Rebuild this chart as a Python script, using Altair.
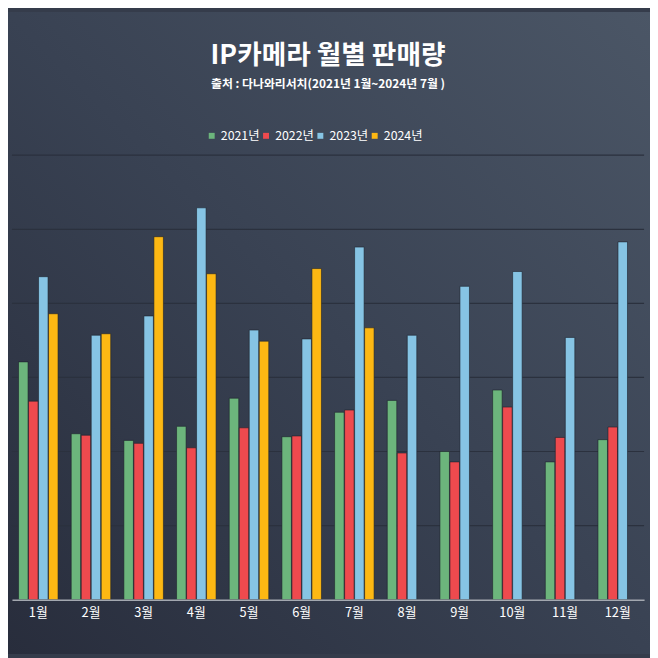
import altair as alt
import pandas as pd

months = ["1월", "2월", "3월", "4월", "5월", "6월", "7월", "8월", "9월", "10월", "11월", "12월"]
years = ["2021년", "2022년", "2023년", "2024년"]
sales_2021 = [3.21, 2.24, 2.15, 2.34, 2.72, 2.20, 2.53, 2.69, 2.00, 2.83, 1.86, 2.16]
sales_2022 = [2.68, 2.22, 2.11, 2.05, 2.32, 2.21, 2.56, 1.98, 1.86, 2.60, 2.19, 2.33]
sales_2023 = [4.36, 3.57, 3.83, 5.29, 3.64, 3.52, 4.76, 3.57, 4.23, 4.43, 3.54, 4.83]
sales_2024 = [3.86, 3.59, 4.90, 4.40, 3.49, 4.47, 3.67]
grid_ticks = [1, 2, 3, 4, 5, 6]
colors = ["#6cb57c", "#ee4a4e", "#86c4e4", "#fdb813"]

rows = []
for yr, vals in zip(years, [sales_2021, sales_2022, sales_2023, sales_2024]):
    for m, v in zip(months, vals):
        rows.append({"month": m, "year": yr, "value": v})
df = pd.DataFrame(rows)

FONT = "Noto Sans CJK KR"
W, H = 640, 450

gradient = {
    "gradient": "linear",
    "x1": 1, "y1": 0, "x2": 0, "y2": 1,
    "stops": [
        {"offset": 0, "color": "#4b5666"},
        {"offset": 0.5, "color": "#394253"},
        {"offset": 1, "color": "#282d3c"},
    ],
}

bg = alt.Chart(pd.DataFrame({"a": [0]})).mark_rect(color=gradient).encode(
    x=alt.value(-4), x2=alt.value(W + 6), y=alt.value(-145), y2=alt.value(H + 55)
)

grid = alt.Chart(pd.DataFrame({"v": grid_ticks})).mark_rule(
    color="#2b313e", strokeWidth=1.2
).encode(y=alt.Y("v:Q", scale=alt.Scale(domain=[0, 6]), axis=None))

bars = alt.Chart(df).mark_bar(stroke="#1b202b", strokeWidth=0.6).encode(
    x=alt.X(
        "month:N",
        sort=months,
        scale=alt.Scale(paddingInner=0.25, paddingOuter=0.125),
        axis=alt.Axis(
            title=None, labelAngle=0, labelColor="#ffffff", labelFontSize=13,
            labelFont=FONT, labelPadding=7, ticks=False, grid=False,
            domain=True, domainColor="#a3a8b0", domainWidth=1.5, zindex=1,
        ),
    ),
    xOffset=alt.XOffset("year:N", scale=alt.Scale(domain=years, paddingInner=0.05)),
    y=alt.Y("value:Q", scale=alt.Scale(domain=[0, 6]), axis=None),
    color=alt.Color(
        "year:N",
        scale=alt.Scale(domain=years, range=colors),
        legend=alt.Legend(
            title=None, orient="none", legendX=196, legendY=-26, direction="horizontal",
            labelColor="#ffffff", labelFontSize=12.5, labelFont=FONT,
            symbolType="square", symbolSize=36, symbolStrokeWidth=0,
            columnPadding=0, labelOffset=3,
        ),
    ),
)

chart = alt.layer(bg, grid, bars).properties(
    width=W,
    height=H,
    title=alt.TitleParams(
        text="IP카메라 월별 판매량",
        subtitle="출처 : 다나와리서치(2021년 1월~2024년 7월 )",
        color="#ffffff", subtitleColor="#ffffff",
        fontSize=27, subtitleFontSize=12,
        font=FONT, subtitleFont=FONT,
        fontWeight="bold", subtitleFontWeight="bold",
        anchor="middle", offset=-80, subtitlePadding=9,
    ),
    padding={"left": 4, "top": 145, "right": 6, "bottom": 55},
    autosize=alt.AutoSizeParams(type="none"),
).configure(
    background="#353c4b",
).configure_view(stroke=None)

chart.save("out.html", embed_options={"renderer": "svg", "actions": False})
